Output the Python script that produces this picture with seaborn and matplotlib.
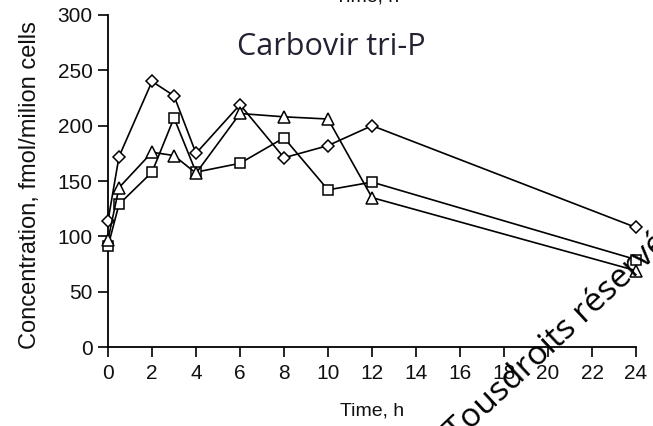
import matplotlib
matplotlib.use("Agg")
import matplotlib.pyplot as plt
import seaborn as sns
import pandas as pd

# Sampling times (h) and carbovir triphosphate levels (fmol/million cells)
time_h = [0, 0.5, 2, 3, 4, 6, 8, 10, 12, 24]
diamond_vals = [114, 172, 240, 227, 175, 219, 171, 182, 200, 108]
square_vals = [91, 129, 158, 207, 158, 166, 189, 142, 149, 79]
triangle_vals = [97, 144, 176, 173, 157, 211, 208, 206, 135, 69]

x_ticks = list(range(0, 25, 2))
y_ticks = [0, 50, 100, 150, 200, 250, 300]

series = [
    ("A", diamond_vals, "D", 6.5),
    ("B", square_vals, "s", 7),
    ("C", triangle_vals, "^", 8),
]

sns.set_theme(style="white")
plt.rcParams["font.family"] = ["Liberation Sans", "DejaVu Sans"]

fig = plt.figure(figsize=(6.53, 4.26), dpi=100)
ax = fig.add_axes([0.1654, 0.1854, 0.8086, 0.7794])

for name, vals, mk, ms in series:
    df = pd.DataFrame({"t": time_h, "c": vals})
    sns.lineplot(data=df, x="t", y="c", ax=ax, color="black", linewidth=1.2,
                 marker=mk, markersize=ms, markerfacecolor="white",
                 markeredgecolor="black", markeredgewidth=1.1,
                 clip_on=False, zorder=3)

ax.set_xlim(0, 24)
ax.set_ylim(0, 300)
ax.set_xticks(x_ticks)
ax.set_yticks(y_ticks)
ax.tick_params(axis="both", direction="out", length=7, width=1.2,
               color="black", labelsize=15, pad=4, labelcolor="#111111")
ax.tick_params(axis="x", bottom=True, pad=5)
ax.tick_params(axis="y", left=True)
for side in ("top", "right"):
    ax.spines[side].set_visible(False)
for side in ("left", "bottom"):
    ax.spines[side].set_color("black")
    ax.spines[side].set_linewidth(1.3)

ax.set_xlabel("Time, h", fontsize=14, color="#111111")
ax.xaxis.set_label_coords(0.5, -0.193)
ax.xaxis.label.set_va("center")
ax.set_ylabel("Concentration, fmol/milion cells", fontsize=17, color="#111111")
ax.yaxis.set_label_coords(-0.148, 0.488)
ax.yaxis.label.set_va("center")

fig.text(0.507, 0.89, "Carbovir tri-P", fontsize=22, color="#222233",
         family=["Open Sans", "DejaVu Sans"], ha="center", va="center")

# partially visible heading above the plot
fig.text(0.562, 1.008, "Time, h", fontsize=14, color="#111111",
         ha="center", va="center")

# copyright stamp
fig.text(0.700, -0.040, "Tousdroits réservés", fontsize=24, color="black",
         family=["Open Sans", "DejaVu Sans"], rotation=43,
         rotation_mode="anchor", ha="left", va="baseline")

fig.savefig("out.png", dpi=100)
